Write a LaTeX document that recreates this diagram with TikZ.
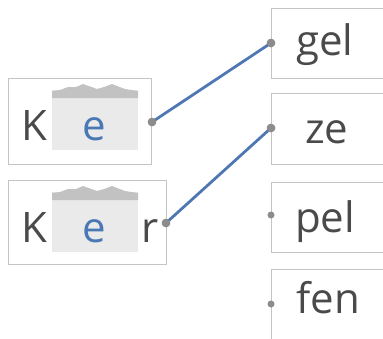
\documentclass[tikz,border=0pt]{standalone}
\usepackage{fontspec}
\setmainfont{Open Sans}
\definecolor{txt}{HTML}{4A4A4A}
\definecolor{bord}{HTML}{C4C4C4}
\definecolor{lineblue}{HTML}{4F77B3}
\definecolor{dotgray}{HTML}{8C8C8C}
\definecolor{patchlight}{HTML}{EAEAEA}
\definecolor{patchdark}{HTML}{C2C2C2}
\definecolor{eblue}{HTML}{4A78B5}
\tikzset{
  wbox/.style={draw=bord, line width=0.9pt},
  word/.style={text=txt, font=\fontsize{42}{42}\selectfont, inner sep=0pt, anchor=base west},
  dot/.style={circle, fill=dotgray, inner sep=0pt, minimum size=8.5pt},
  link/.style={draw=lineblue, line width=2.8pt, line cap=round}
}
\begin{document}
\begin{tikzpicture}[x=1pt,y=-1pt]
\useasboundingbox (0,0) rectangle (383,338);
\clip (0,0) rectangle (383,338);
% left boxes
\draw[wbox] (8,78) rectangle (151,164);
\draw[wbox] (8,180) rectangle (166,264);
% patches
\foreach \t in {0,102}{
  \fill[patchlight] (52,90+\t) rectangle (138,150+\t);
  \fill[patchdark] (52,98+\t) -- (52,91+\t) -- (60,90+\t) -- (68,87+\t) -- (76,87+\t) -- (83,84+\t) -- (97,89+\t) -- (104,87+\t) -- (112,84+\t) -- (125,89+\t) -- (138,91+\t) -- (138,98+\t) -- cycle;
}
\node[word] (k1) at (21,140) {K};
\node[word, text=eblue] (e1) at (82,140) {e};
\node[word] (k2) at (21,242) {K};
\node[word, text=eblue] (e2) at (82,242) {e};
\node[word] (r2) at (141,242) {r};
% right boxes
\draw[wbox] (271,8) rectangle (400,78);
\draw[wbox] (271,93) rectangle (400,164);
\draw[wbox] (271,182) rectangle (400,252);
\draw[wbox] (271,269) rectangle (400,360);
\node[word] (gel) at (296,55) {gel};
\node[word] (ze) at (305,143) {ze};
\node[word] (pel) at (295,232) {pel};
\node[word] (fen) at (296,313) {fen};
% dots
\node[dot] (d1) at (152,122) {};
\node[dot] (d2) at (166,223) {};
\node[dot] (dg) at (271,43) {};
\node[dot] (dz) at (271,128) {};
\node[dot, minimum size=7pt] (dp) at (271,215) {};
\node[dot, minimum size=7pt] (df) at (271,304) {};
% links
\draw[link] (d1.center) -- (dg.center);
\draw[link] (d2.center) -- (dz.center);
\node[dot] at (d1) {};
\node[dot] at (d2) {};
\node[dot] at (dg) {};
\node[dot] at (dz) {};
\end{tikzpicture}
\end{document}
